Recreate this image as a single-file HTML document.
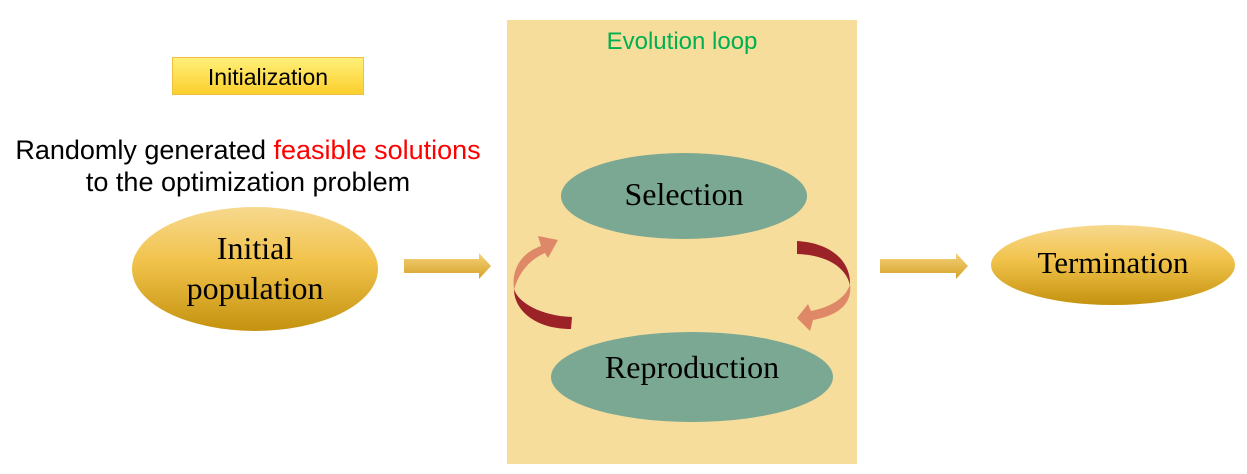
<!DOCTYPE html>
<html><head><meta charset="utf-8"><style>
html,body{margin:0;padding:0;background:#fff;}
svg{display:block;}
.sans{font-family:"Liberation Sans",sans-serif;}
.serif{font-family:"Liberation Serif",serif;}
</style></head><body>
<svg width="1247" height="474" viewBox="0 0 1247 474" xmlns="http://www.w3.org/2000/svg">
<defs>
<linearGradient id="gold" x1="0" y1="0" x2="0" y2="1">
<stop offset="0" stop-color="#f7d98e"/><stop offset="0.45" stop-color="#f1c24a"/><stop offset="1" stop-color="#c4920f"/>
</linearGradient>
<linearGradient id="yb" x1="0" y1="0" x2="0" y2="1">
<stop offset="0" stop-color="#fff07a"/><stop offset="1" stop-color="#fccf2c"/>
</linearGradient>
<linearGradient id="ar" x1="0" y1="0" x2="0" y2="1">
<stop offset="0" stop-color="#f5d27a"/><stop offset="1" stop-color="#d6a228"/>
</linearGradient>
</defs>
<rect width="1247" height="474" fill="#fff"/>
<rect x="507" y="20" width="350" height="444" fill="#f7dd9c"/>
<text x="682" y="49" text-anchor="middle" class="sans" font-size="24" fill="#00b050">Evolution loop</text>
<rect x="172.5" y="57.5" width="191" height="37" fill="url(#yb)" stroke="#f0c040"/>
<text x="268" y="85" text-anchor="middle" class="sans" font-size="23">Initialization</text>
<text x="248" y="159" text-anchor="middle" class="sans" font-size="27">Randomly generated <tspan fill="#ff0000">feasible solutions</tspan></text>
<text x="248" y="191" text-anchor="middle" class="sans" font-size="27">to the optimization problem</text>
<ellipse cx="255" cy="269" rx="123" ry="62" fill="url(#gold)"/>
<text x="255" y="259" text-anchor="middle" class="serif" font-size="32">Initial</text>
<text x="255" y="299" text-anchor="middle" class="serif" font-size="32">population</text>
<ellipse cx="684" cy="196" rx="123" ry="43" fill="#7aa892"/>
<text x="684" y="205" text-anchor="middle" class="serif" font-size="32">Selection</text>
<ellipse cx="692" cy="377" rx="141" ry="45" fill="#7aa892"/>
<text x="692" y="378" text-anchor="middle" class="serif" font-size="32">Reproduction</text>
<ellipse cx="1113" cy="265" rx="122" ry="40" fill="url(#gold)"/>
<text x="1113" y="273" text-anchor="middle" class="serif" font-size="31">Termination</text>
<polygon points="404,259 479,259 479,253 491,266 479,279 479,273 404,273" fill="url(#ar)"/>
<polygon points="880,259 956,259 956,253 968,266 956,279 956,273 880,273" fill="url(#ar)"/>
<!-- left curved arrow -->
<path d="M571,329 C535,329 514,310 514,289 C518,303 542,316 572,317 Z" fill="#9b2226"/>
<path d="M514,290 C511,266 524,252 541,246 L538,236 L558,240 L548,258 L545,253 C528,260 518,275 514,290 Z" fill="#de8868"/>
<!-- right curved arrow -->
<path d="M797,241 C832,243 851,262 850,285 C846,268 828,255 797,254 Z" fill="#9b2226"/>
<path d="M850,284 C853,305 836,316 813,320 L810,331 L797,318 L808,304 L811,311 C831,307 846,298 850,284 Z" fill="#de8868"/>
</svg>
</body></html>
